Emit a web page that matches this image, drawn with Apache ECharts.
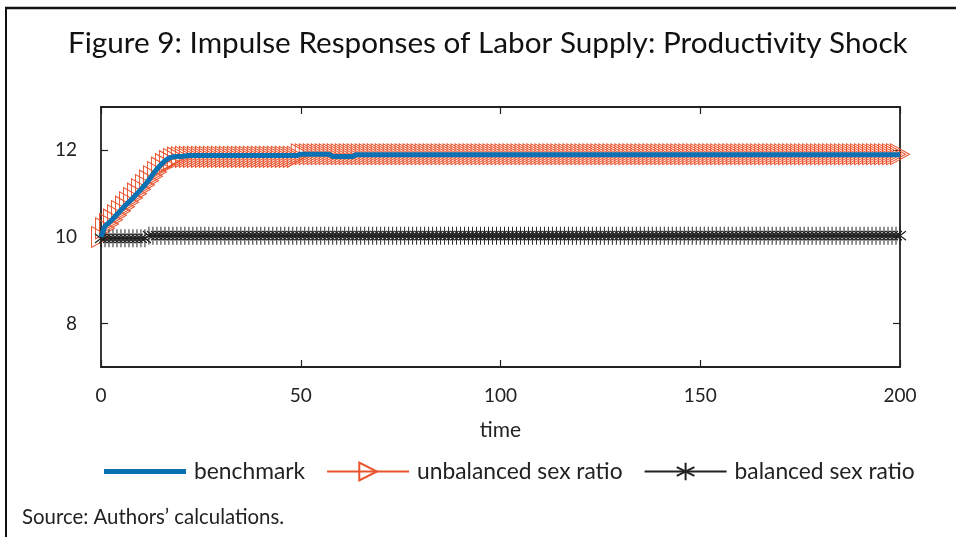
<!DOCTYPE html>
<html>
<head>
<meta charset="utf-8">
<script src="https://cdn.jsdelivr.net/npm/echarts@6/dist/echarts.min.js"></script>
<style>
  html, body { margin: 0; padding: 0; background: #fff; }
  #chart { width: 956px; height: 537px; }
</style>
</head>
<body>
<div id="chart"></div>
<script>
// x axis ticks and y axis ticks
var xTicks = [0, 50, 100, 150, 200]
var yTicks = [8, 10, 12]

// one value per period, t = 0 .. 200
var benchmark = [
  10.0, 10.25, 10.33, 10.42, 10.52, 10.62, 10.72, 10.81, 10.9, 11.0,
  11.1, 11.2, 11.32, 11.45, 11.57, 11.67, 11.76, 11.82, 11.85, 11.86,
  11.86, 11.87, 11.88, 11.88, 11.88, 11.88, 11.88, 11.88, 11.88, 11.88,
  11.88, 11.88, 11.88, 11.88, 11.88, 11.88, 11.88, 11.88, 11.88, 11.88,
  11.88, 11.88, 11.88, 11.88, 11.88, 11.88, 11.88, 11.88, 11.88, 11.88,
  11.91, 11.91, 11.91, 11.91, 11.91, 11.91, 11.91, 11.91, 11.86, 11.86,
  11.86, 11.86, 11.86, 11.86, 11.9, 11.9, 11.9, 11.9, 11.9, 11.9,
  11.9, 11.9, 11.9, 11.9, 11.9, 11.9, 11.9, 11.9, 11.9, 11.9,
  11.9, 11.9, 11.9, 11.9, 11.9, 11.9, 11.9, 11.9, 11.9, 11.9,
  11.9, 11.9, 11.9, 11.9, 11.9, 11.9, 11.9, 11.9, 11.9, 11.9,
  11.9, 11.9, 11.9, 11.9, 11.9, 11.9, 11.9, 11.9, 11.9, 11.9,
  11.9, 11.9, 11.9, 11.9, 11.9, 11.9, 11.9, 11.9, 11.9, 11.9,
  11.9, 11.9, 11.9, 11.9, 11.9, 11.9, 11.9, 11.9, 11.9, 11.9,
  11.9, 11.9, 11.9, 11.9, 11.9, 11.9, 11.9, 11.9, 11.9, 11.9,
  11.9, 11.9, 11.9, 11.9, 11.9, 11.9, 11.9, 11.9, 11.9, 11.9,
  11.9, 11.9, 11.9, 11.9, 11.9, 11.9, 11.9, 11.9, 11.9, 11.9,
  11.9, 11.9, 11.9, 11.9, 11.9, 11.9, 11.9, 11.9, 11.9, 11.9,
  11.9, 11.9, 11.9, 11.9, 11.9, 11.9, 11.9, 11.9, 11.9, 11.9,
  11.9, 11.9, 11.9, 11.9, 11.9, 11.9, 11.9, 11.9, 11.9, 11.9,
  11.9, 11.9, 11.9, 11.9, 11.9, 11.9, 11.9, 11.9, 11.9, 11.9,
  11.9
]

var unbalanced = [
  10.0, 10.2, 10.3, 10.4, 10.5, 10.6, 10.7, 10.8, 10.9, 11.0,
  11.1, 11.2, 11.3, 11.4, 11.5, 11.6, 11.68, 11.75, 11.8, 11.83,
  11.84, 11.85, 11.85, 11.85, 11.85, 11.85, 11.85, 11.85, 11.85, 11.85,
  11.85, 11.85, 11.85, 11.85, 11.85, 11.85, 11.85, 11.85, 11.85, 11.85,
  11.85, 11.85, 11.85, 11.85, 11.85, 11.85, 11.85, 11.85, 11.85, 11.85,
  11.91, 11.91, 11.91, 11.91, 11.91, 11.91, 11.91, 11.91, 11.91, 11.91,
  11.91, 11.91, 11.91, 11.91, 11.91, 11.91, 11.91, 11.91, 11.91, 11.91,
  11.91, 11.91, 11.91, 11.91, 11.91, 11.91, 11.91, 11.91, 11.91, 11.91,
  11.91, 11.91, 11.91, 11.91, 11.91, 11.91, 11.91, 11.91, 11.91, 11.91,
  11.91, 11.91, 11.91, 11.91, 11.91, 11.91, 11.91, 11.91, 11.91, 11.91,
  11.91, 11.91, 11.91, 11.91, 11.91, 11.91, 11.91, 11.91, 11.91, 11.91,
  11.91, 11.91, 11.91, 11.91, 11.91, 11.91, 11.91, 11.91, 11.91, 11.91,
  11.91, 11.91, 11.91, 11.91, 11.91, 11.91, 11.91, 11.91, 11.91, 11.91,
  11.91, 11.91, 11.91, 11.91, 11.91, 11.91, 11.91, 11.91, 11.91, 11.91,
  11.91, 11.91, 11.91, 11.91, 11.91, 11.91, 11.91, 11.91, 11.91, 11.91,
  11.91, 11.91, 11.91, 11.91, 11.91, 11.91, 11.91, 11.91, 11.91, 11.91,
  11.91, 11.91, 11.91, 11.91, 11.91, 11.91, 11.91, 11.91, 11.91, 11.91,
  11.91, 11.91, 11.91, 11.91, 11.91, 11.91, 11.91, 11.91, 11.91, 11.91,
  11.91, 11.91, 11.91, 11.91, 11.91, 11.91, 11.91, 11.91, 11.91, 11.91,
  11.91, 11.91, 11.91, 11.91, 11.91, 11.91, 11.91, 11.91, 11.91, 11.91,
  11.91
]

var balanced = [
  9.97, 9.97, 9.97, 9.97, 9.97, 9.97, 9.97, 9.97, 9.97, 9.97,
  9.97, 9.97, 10.03, 10.03, 10.03, 10.03, 10.03, 10.03, 10.03, 10.03,
  10.03, 10.03, 10.03, 10.03, 10.03, 10.03, 10.03, 10.03, 10.03, 10.03,
  10.03, 10.03, 10.03, 10.03, 10.03, 10.03, 10.03, 10.03, 10.03, 10.03,
  10.03, 10.03, 10.03, 10.03, 10.03, 10.03, 10.03, 10.03, 10.03, 10.03,
  10.03, 10.03, 10.03, 10.03, 10.03, 10.03, 10.03, 10.03, 10.03, 10.03,
  10.03, 10.03, 10.03, 10.03, 10.03, 10.03, 10.03, 10.03, 10.03, 10.03,
  10.03, 10.03, 10.03, 10.03, 10.03, 10.03, 10.03, 10.03, 10.03, 10.03,
  10.03, 10.03, 10.03, 10.03, 10.03, 10.03, 10.03, 10.03, 10.03, 10.03,
  10.03, 10.03, 10.03, 10.03, 10.03, 10.03, 10.03, 10.03, 10.03, 10.03,
  10.03, 10.03, 10.03, 10.03, 10.03, 10.03, 10.03, 10.03, 10.03, 10.03,
  10.03, 10.03, 10.03, 10.03, 10.03, 10.03, 10.03, 10.03, 10.03, 10.03,
  10.03, 10.03, 10.03, 10.03, 10.03, 10.03, 10.03, 10.03, 10.03, 10.03,
  10.03, 10.03, 10.03, 10.03, 10.03, 10.03, 10.03, 10.03, 10.03, 10.03,
  10.03, 10.03, 10.03, 10.03, 10.03, 10.03, 10.03, 10.03, 10.03, 10.03,
  10.03, 10.03, 10.03, 10.03, 10.03, 10.03, 10.03, 10.03, 10.03, 10.03,
  10.03, 10.03, 10.03, 10.03, 10.03, 10.03, 10.03, 10.03, 10.03, 10.03,
  10.03, 10.03, 10.03, 10.03, 10.03, 10.03, 10.03, 10.03, 10.03, 10.03,
  10.03, 10.03, 10.03, 10.03, 10.03, 10.03, 10.03, 10.03, 10.03, 10.03,
  10.03, 10.03, 10.03, 10.03, 10.03, 10.03, 10.03, 10.03, 10.03, 10.03,
  10.03
]

var FONT = 'Lato'
var AXIS = '#222'
var BLUE = '#0a72b3'
var ORANGE = '#e9532d'
var BLACK = '#222'
var STAR = 'path://M6,0 L6,18 M0,4.5 L12,13.5 M0,13.5 L12,4.5'

function pairs(arr) {
  return arr.map(function (v, i) { return [i, v] })
}

// ticks pointing into the plot box
function tickIn(extra) {
  return Object.assign({ show: true, inside: true, length: 7, lineStyle: { color: AXIS, width: 1.2 } }, extra || {})
}

var chart = echarts.init(document.getElementById('chart'))

chart.setOption({
  animation: false,
  backgroundColor: '#fff',
  title: [
    {
      text: 'Figure 9: Impulse Responses of Labor Supply: Productivity Shock',
      left: 63,
      top: 23,
      textStyle: { fontFamily: FONT, fontSize: 29.7, fontWeight: 'normal', color: '#111' }
    },
    {
      text: 'Source: Authors\u2019 calculations.',
      left: 17,
      top: 502,
      textStyle: { fontFamily: FONT, fontSize: 20.4, fontWeight: 'normal', color: '#222' }
    }
  ],
  legend: {
    left: 99,
    top: 455,
    itemWidth: 82,
    itemHeight: 22,
    itemGap: 21,
    textStyle: { fontFamily: FONT, fontSize: 22.8, color: '#222', padding: [0, 0, 0, 3] },
    data: [
      { name: 'benchmark', icon: 'path://M0,0 L82,0 L82,5 L0,5 Z' },
      'unbalanced sex ratio',
      'balanced sex ratio'
    ]
  },
  grid: { left: 101, right: 56, top: 107, bottom: 170 },
  xAxis: [
    {
      type: 'value', min: 0, max: 200, interval: 50,
      name: 'time', nameLocation: 'middle', nameGap: 53,
      nameTextStyle: { fontFamily: FONT, fontSize: 21, color: '#222' },
      axisLine: { onZero: false, lineStyle: { color: AXIS, width: 1.8 } },
      axisTick: tickIn(),
      axisLabel: { fontFamily: FONT, fontSize: 19, color: '#222', margin: 19 },
      splitLine: { show: false }
    },
    {
      type: 'value', min: 0, max: 200, interval: 50, position: 'top',
      axisLine: { onZero: false, lineStyle: { color: AXIS, width: 1.8 } },
      axisTick: tickIn(),
      axisLabel: { show: false },
      splitLine: { show: false }
    }
  ],
  yAxis: [
    {
      type: 'value', min: 7, max: 13, interval: 1,
      axisLine: { show: true, onZero: false, lineStyle: { color: AXIS, width: 1.8 } },
      axisTick: tickIn({ customValues: yTicks }),
      axisLabel: {
        fontFamily: FONT, fontSize: 19, color: '#222', margin: 24,
        formatter: function (v) { return yTicks.indexOf(v) >= 0 ? String(v) : '' }
      },
      splitLine: { show: false }
    },
    {
      type: 'value', min: 7, max: 13, interval: 1, position: 'right',
      axisLine: { show: true, onZero: false, lineStyle: { color: AXIS, width: 1.8 } },
      axisTick: tickIn({ customValues: yTicks }),
      axisLabel: { show: false },
      splitLine: { show: false }
    }
  ],
  series: [
    {
      name: 'benchmark',
      type: 'line',
      data: pairs(benchmark),
      showSymbol: false,
      symbol: 'none',
      z: 4,
      itemStyle: { color: BLUE },
      lineStyle: { color: BLUE, width: 5 }
    },
    {
      name: 'unbalanced sex ratio',
      type: 'line',
      data: pairs(unbalanced),
      symbol: 'triangle',
      symbolSize: [21, 19],
      symbolRotate: -90,
      z: 3,
      itemStyle: { color: 'transparent', borderColor: ORANGE, borderWidth: 1 },
      lineStyle: { color: ORANGE, width: 1.2 }
    },
    {
      name: 'balanced sex ratio',
      type: 'line',
      data: pairs(balanced),
      symbol: STAR,
      symbolSize: [12, 18],
      z: 3,
      itemStyle: { color: 'transparent', borderColor: BLACK, borderWidth: 1.2 },
      lineStyle: { color: BLACK, width: 1.5 }
    }
  ],
  graphic: [
    { type: 'line', shape: { x1: 6, y1: 8, x2: 6, y2: 537 }, style: { stroke: '#111', lineWidth: 2 } },
    { type: 'line', shape: { x1: 5, y1: 8, x2: 956, y2: 8 }, style: { stroke: '#111', lineWidth: 2.5 } }
  ]
})
</script>
</body>
</html>
